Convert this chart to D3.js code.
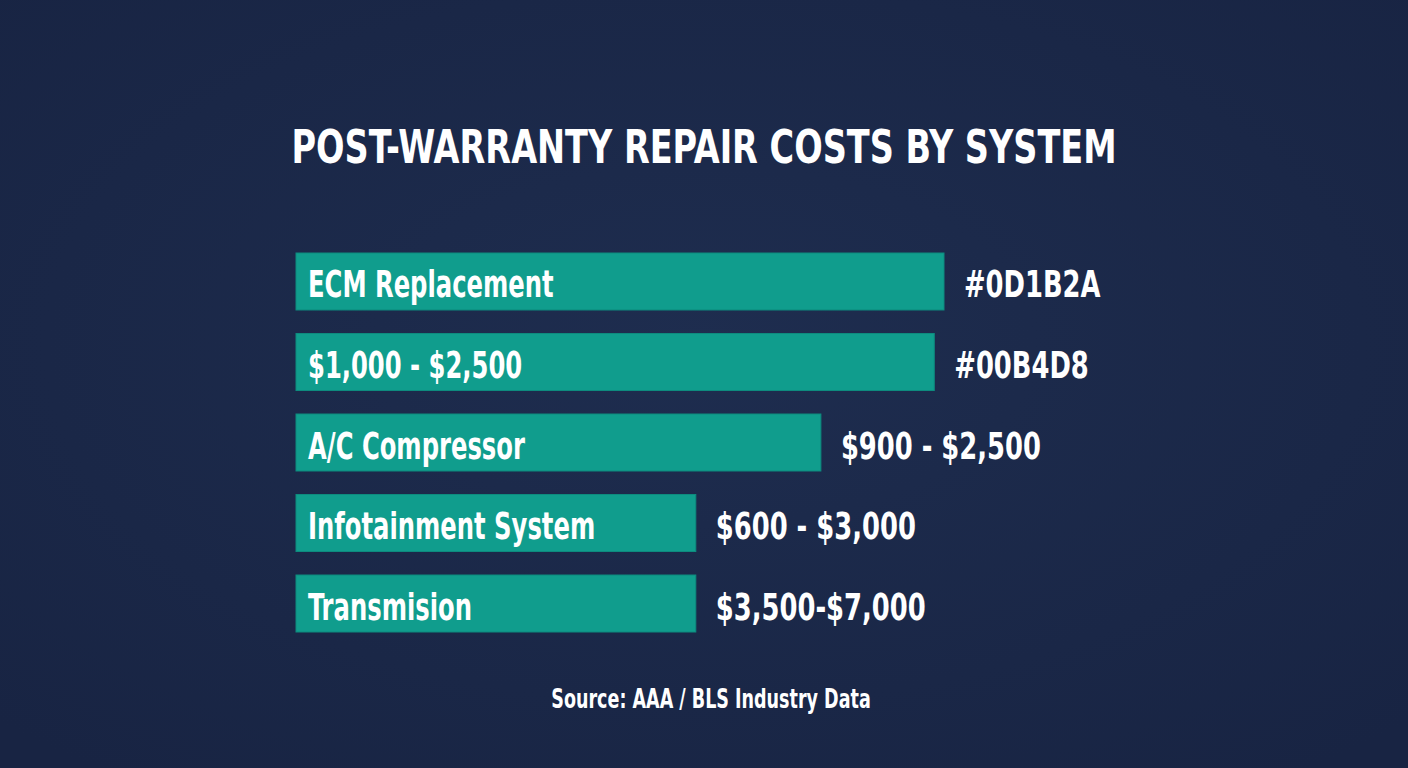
<!DOCTYPE html>
<html>
<head>
<meta charset="utf-8">
<script src="https://cdn.jsdelivr.net/npm/d3@7"></script>
<style>
  html, body { margin: 0; padding: 0; background: #1b2949; }
  svg { display: block; }
</style>
</head>
<body>
<div id="chart"></div>
<script>
// chart data
var systems = ["ECM Replacement", "$1,000 - $2,500", "A/C Compressor", "Infotainment System", "Transmision"];
var barLengths = [100, 98.5, 81, 61.7, 61.7]; // relative bar length (% of longest)
var costLabels = ["#0D1B2A", "#00B4D8", "$900 - $2,500", "$600 - $3,000", "$3,500-$7,000"];

var titleText = "POST-WARRANTY REPAIR COSTS BY SYSTEM";
var sourceText = "Source: AAA / BLS Industry Data";

var W = 1408, H = 768;
var FONT = "'DejaVu Sans Condensed', 'DejaVu Sans', sans-serif";

var svg = d3.select("#chart")
  .append("svg")
  .attr("width", W)
  .attr("height", H);

// soft vignette background
var defs = svg.append("defs");
var grad = defs.append("radialGradient")
  .attr("id", "bg")
  .attr("cx", "50%").attr("cy", "45%").attr("r", "70%");
grad.append("stop").attr("offset", "0%").attr("stop-color", "#1e2d4f");
grad.append("stop").attr("offset", "100%").attr("stop-color", "#182443");

svg.append("rect")
  .attr("width", W)
  .attr("height", H)
  .attr("fill", "url(#bg)");

var data = systems.map(function (s, i) {
  return { name: s, len: barLengths[i], cost: costLabels[i] };
});

// scales
var x = d3.scaleLinear().domain([0, 100]).range([296, 944]);
var y = d3.scaleBand()
  .domain(systems)
  .range([253, 632])
  .paddingInner(0.292)
  .paddingOuter(0);

// squeezed text helper (no condensed display face installed, so squash horizontally)
function squeezed(g, txt, px, py, size, sx, anchor) {
  return g.append("text")
    .attr("transform", "translate(" + px + "," + py + ") scale(" + sx + ",1)")
    .attr("text-anchor", anchor || "start")
    .style("font-family", FONT)
    .style("font-weight", "bold")
    .style("font-size", size + "px")
    .attr("fill", "#ffffff")
    .text(txt);
}

// title
squeezed(svg, titleText, 704, 163, 46, 0.81, "middle");

// bars
var bars = svg.append("g");
bars.selectAll("rect")
  .data(data)
  .join("rect")
  .attr("x", x(0))
  .attr("y", function (d) { return y(d.name); })
  .attr("width", function (d) { return x(d.len) - x(0); })
  .attr("height", y.bandwidth())
  .attr("fill", "#109d8d")
  .attr("stroke", "#0d8b7e")
  .attr("stroke-width", 1);

// labels inside bars and cost labels to the right
data.forEach(function (d) {
  var base = y(d.name) + y.bandwidth() / 2 + 16;
  squeezed(svg, d.name, x(0) + 12, base, 38, 0.71);
  squeezed(svg, d.cost, x(d.len) + 20, base, 38, 0.755);
});

// source note
squeezed(svg, sourceText, 711, 708, 26, 0.75, "middle");
</script>
</body>
</html>
